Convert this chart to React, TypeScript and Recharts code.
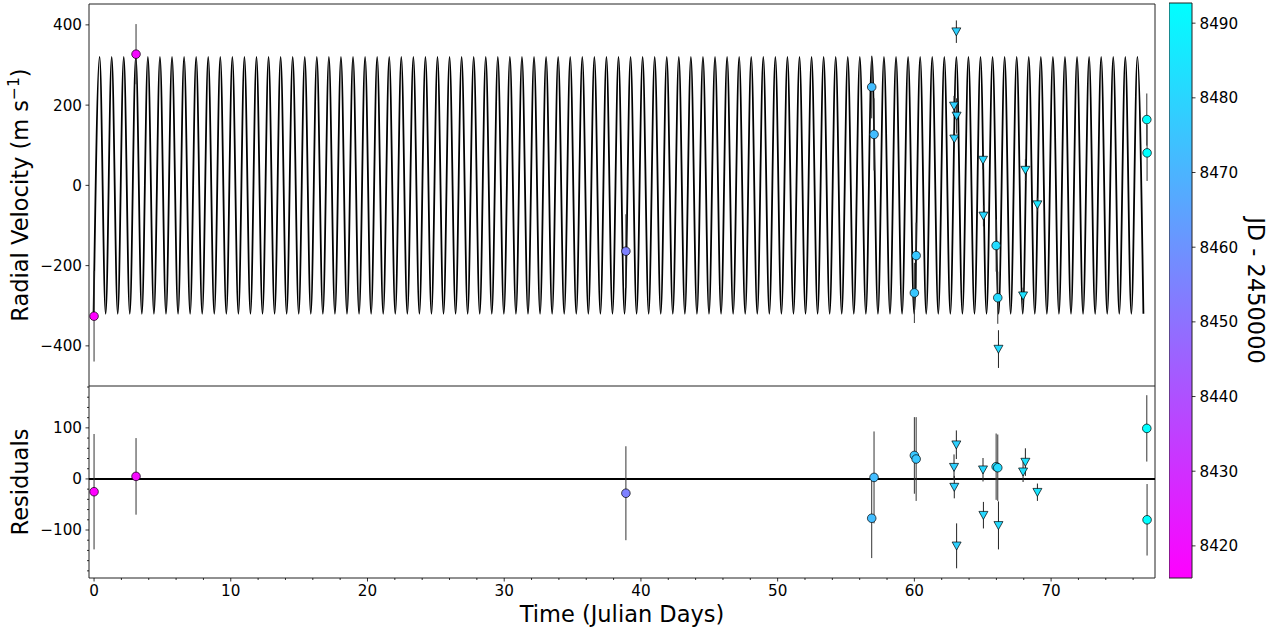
import React from "react";
import {
  ComposedChart,
  Line,
  Scatter,
  XAxis,
  YAxis,
  ErrorBar,
  ReferenceArea,
  ReferenceLine,
} from "recharts";

const FONT = "'DejaVu Sans', Verdana, sans-serif";
const TICK_SIZE = 15.2;
const TITLE_SIZE = 22.5;

// days since first observation (JD - 2458415.74)
const circleTime = [0, 3.07, 38.9, 56.88, 57.05, 60.0, 60.13, 65.98, 66.1, 77.0, 77.02];
const circleRv = [-326, 327, -164, 245, 127, -268, -175, -150, -280, 164, 81];
const circleResid = [-25, 5, -28, -77, 3, 46, 39, 24, 22, 99, -80];
const circleErr = [113, 75, 92, 78, 90, 75, 82, 65, 65, 65, 70];

const triTime = [62.9, 62.92, 63.07, 63.09, 65.02, 65.05, 66.15, 67.95, 68.12, 69.0];
const triRv = [198, 116, 383, 173, 63, -76, -408, -275, 38, -48];
const triResid = [23, -16, 67, -131, 18, -71, -91, 14, 33, -26];
const triErr = [25, 22, 28, 44, 23, 26, 47, 20, 27, 17];

// keplerian model (circular)
const modelK = 320;
const modelPeriod = 0.8826;
const modelFirstPeak = 0.407;
const modelEnd = 77.1;

const jdZero = 8415.74;
const cbDomain = [8415.7, 8492.7];
const cbTicks = [8420, 8430, 8440, 8450, 8460, 8470, 8480, 8490];

const xDomain = [-0.37, 77.6];
const rvDomain = [-500, 452];
const residDomain = [-194, 182];
const rvTicks = [-400, -200, 0, 200, 400];
const residMajor = [-100, 0, 100];
const residTicks = [-180, -160, -140, -120, -100, -80, -60, -40, -20, 0, 20, 40, 60, 80, 100, 120, 140, 160, 180];
const timeMajor = [0, 10, 20, 30, 40, 50, 60, 70];
const timeTicks = [0, 2, 4, 6, 8, 10, 12, 14, 16, 18, 20, 22, 24, 26, 28, 30, 32, 34, 36, 38, 40, 42, 44, 46, 48, 50, 52, 54, 56, 58, 60, 62, 64, 66, 68, 70, 72, 74, 76];

function coolColor(t: number) {
  const f = Math.min(1, Math.max(0, (jdZero + t - cbDomain[0]) / (cbDomain[1] - cbDomain[0])));
  return `rgb(${Math.round(255 * (1 - f))},${Math.round(255 * f)},255)`;
}

const circleTop = circleTime.map((t, i) => ({ t, v: circleRv[i], err: circleErr[i], c: coolColor(t) }));
const circleBot = circleTime.map((t, i) => ({ t, v: circleResid[i], err: circleErr[i], c: coolColor(t) }));
const triTop = triTime.map((t, i) => ({ t, v: triRv[i], err: triErr[i], c: coolColor(t) }));
const triBot = triTime.map((t, i) => ({ t, v: triResid[i], err: triErr[i], c: coolColor(t) }));

// extrema of the model, joined with a monotone curve
const modelPts: { t: number; v: number }[] = [];
for (let n = -1; ; n++) {
  const t = modelFirstPeak + (n * modelPeriod) / 2;
  if (t > modelEnd) break;
  modelPts.push({ t, v: n % 2 === 0 ? modelK : -modelK });
}

const fmt = (v: number) => (v < 0 ? "\u2212" + Math.abs(v) : String(v));

function CircleMark(p: any) {
  if (p.cx == null || p.cy == null) return null;
  return <circle cx={p.cx} cy={p.cy} r={4.3} fill={p.payload.c} stroke="#000" strokeWidth={0.7} />;
}

function TriMark(p: any) {
  if (p.cx == null || p.cy == null) return null;
  const { cx, cy } = p;
  return (
    <path
      d={`M${cx - 4.5},${cy - 3.8}L${cx + 4.5},${cy - 3.8}L${cx},${cy + 4.2}Z`}
      fill={p.payload.c}
      stroke="#000"
      strokeWidth={0.7}
    />
  );
}

function LeftTick(p: any) {
  const major = p.majors.includes(p.payload.value);
  const len = major ? 3.5 : 2;
  return (
    <g>
      <line x1={p.x} x2={p.x - len} y1={p.y} y2={p.y} stroke="#000" strokeWidth={0.8} />
      {major && (
        <text x={p.x - 7} y={p.y} dy="0.36em" textAnchor="end" fontSize={TICK_SIZE} fontFamily={FONT} fill="#000">
          {fmt(p.payload.value)}
        </text>
      )}
    </g>
  );
}

function BottomTick(p: any) {
  const major = timeMajor.includes(p.payload.value);
  const len = major ? 3.5 : 2;
  return (
    <g>
      <line x1={p.x} x2={p.x} y1={p.y} y2={p.y + len} stroke="#000" strokeWidth={0.8} />
      {major && (
        <text x={p.x} y={p.y + 6.5} dy="0.76em" textAnchor="middle" fontSize={TICK_SIZE} fontFamily={FONT} fill="#000">
          {fmt(p.payload.value)}
        </text>
      )}
    </g>
  );
}

function RightTick(p: any) {
  return (
    <g>
      <line x1={p.x} x2={p.x + 3.5} y1={p.y} y2={p.y} stroke="#000" strokeWidth={0.8} />
      <text x={p.x + 7.5} y={p.y} dy="0.36em" textAnchor="start" fontSize={TICK_SIZE} fontFamily={FONT} fill="#000">
        {p.payload.value}
      </text>
    </g>
  );
}

function RvTitle(p: any) {
  const vb = p.viewBox || { x: 0, y: 0, width: 0, height: 0 };
  const cx = vb.x + 20;
  const cy = vb.y + vb.height / 2;
  return (
    <text transform={`rotate(-90 ${cx} ${cy})`} x={cx} y={cy} dy="0.35em" textAnchor="middle" fontSize={TITLE_SIZE} fontFamily={FONT} fill="#000">
      Radial Velocity (m s
      <tspan dy={-9} fontSize={15.5}>
        {"\u22121"}
      </tspan>
      <tspan dy={9}>)</tspan>
    </text>
  );
}

function ResidTitle(p: any) {
  const vb = p.viewBox || { x: 0, y: 0, width: 0, height: 0 };
  const cx = vb.x + 20;
  const cy = vb.y + vb.height / 2;
  return (
    <text transform={`rotate(-90 ${cx} ${cy})`} x={cx} y={cy} dy="0.35em" textAnchor="middle" fontSize={TITLE_SIZE} fontFamily={FONT} fill="#000">
      Residuals
    </text>
  );
}

function TimeTitle(p: any) {
  const vb = p.viewBox || { x: 0, y: 0, width: 0, height: 0 };
  return (
    <text x={vb.x + vb.width / 2} y={vb.y + 36} dy="0.35em" textAnchor="middle" fontSize={TITLE_SIZE} fontFamily={FONT} fill="#000">
      Time (Julian Days)
    </text>
  );
}

function CbTitle(p: any) {
  const vb = p.viewBox || { x: 0, y: 0, width: 0, height: 0 };
  const cx = vb.x + 64;
  const cy = vb.y + vb.height / 2;
  return (
    <text transform={`rotate(90 ${cx} ${cy})`} x={cx} y={cy} dy="0.35em" textAnchor="middle" fontSize={TITLE_SIZE} fontFamily={FONT} fill="#000">
      JD - 2450000
    </text>
  );
}

export default function App() {
  return (
    <div style={{ position: "absolute", left: 0, top: 0, width: 1282, height: 630, background: "#fff", fontFamily: FONT }}>
      <svg width={0} height={0} style={{ position: "absolute" }}>
        <defs>
          <linearGradient id="coolBar" x1="0" y1="0" x2="0" y2="1">
            <stop offset="0" stopColor="#00ffff" />
            <stop offset="1" stopColor="#ff00ff" />
          </linearGradient>
        </defs>
      </svg>

      <div style={{ position: "absolute", left: 0, top: 0 }}>
        <ComposedChart width={1160} height={386} margin={{ top: 4, right: 5, bottom: 0, left: 0 }}>
          <XAxis dataKey="t" type="number" domain={xDomain} allowDataOverflow hide />
          <YAxis
            type="number"
            domain={rvDomain}
            ticks={rvTicks}
            allowDataOverflow
            width={89}
            axisLine={false}
            tickLine={false}
            tickSize={0}
            tickMargin={0}
            tick={<LeftTick majors={rvTicks} />}
            label={<RvTitle />}
          />
          <Line data={modelPts} dataKey="v" type="monotoneX" stroke="#000" strokeWidth={1.8} dot={false} isAnimationActive={false} />
          <Scatter data={circleTop} dataKey="v" shape={CircleMark} isAnimationActive={false}>
            <ErrorBar dataKey="err" direction="y" width={0} stroke="#333" strokeWidth={1} />
          </Scatter>
          <Scatter data={triTop} dataKey="v" shape={TriMark} isAnimationActive={false}>
            <ErrorBar dataKey="err" direction="y" width={0} stroke="#222" strokeWidth={1} />
          </Scatter>
          <ReferenceArea x1={xDomain[0]} x2={xDomain[1]} y1={rvDomain[0]} y2={rvDomain[1]} fill="none" stroke="#222" strokeWidth={1} ifOverflow="visible" />
        </ComposedChart>
      </div>

      <div style={{ position: "absolute", left: 0, top: 386 }}>
        <ComposedChart width={1160} height={244} margin={{ top: 0, right: 5, bottom: 0, left: 0 }}>
          <XAxis
            dataKey="t"
            type="number"
            domain={xDomain}
            ticks={timeTicks}
            allowDataOverflow
            height={52}
            axisLine={false}
            tickLine={false}
            tickSize={0}
            tickMargin={0}
            tick={<BottomTick />}
            interval={0}
            label={<TimeTitle />}
          />
          <YAxis
            type="number"
            domain={residDomain}
            ticks={residTicks}
            allowDataOverflow
            width={89}
            axisLine={false}
            tickLine={false}
            tickSize={0}
            tickMargin={0}
            interval={0}
            tick={<LeftTick majors={residMajor} />}
            label={<ResidTitle />}
          />
          <ReferenceLine y={0} stroke="#000" strokeWidth={2} />
          <Scatter data={circleBot} dataKey="v" shape={CircleMark} isAnimationActive={false}>
            <ErrorBar dataKey="err" direction="y" width={0} stroke="#333" strokeWidth={1} />
          </Scatter>
          <Scatter data={triBot} dataKey="v" shape={TriMark} isAnimationActive={false}>
            <ErrorBar dataKey="err" direction="y" width={0} stroke="#222" strokeWidth={1} />
          </Scatter>
          <ReferenceArea x1={xDomain[0]} x2={xDomain[1]} y1={residDomain[0]} y2={residDomain[1]} fill="none" stroke="#222" strokeWidth={1} ifOverflow="visible" />
        </ComposedChart>
      </div>

      <div style={{ position: "absolute", left: 1169, top: 0 }}>
        <ComposedChart width={113} height={630} margin={{ top: 3, right: 0, bottom: 52, left: 0 }}>
          <XAxis dataKey="x" type="number" domain={[0, 1]} allowDataOverflow hide />
          <YAxis
            orientation="right"
            type="number"
            domain={cbDomain}
            ticks={cbTicks}
            allowDataOverflow
            width={90}
            axisLine={false}
            tickLine={false}
            tickSize={0}
            tickMargin={0}
            interval={0}
            tick={<RightTick />}
            label={<CbTitle />}
          />
          <ReferenceArea x1={0} x2={1} y1={cbDomain[0]} y2={cbDomain[1]} fill="url(#coolBar)" fillOpacity={1} stroke="#222" strokeWidth={1} ifOverflow="visible" />
        </ComposedChart>
      </div>
    </div>
  );
}
